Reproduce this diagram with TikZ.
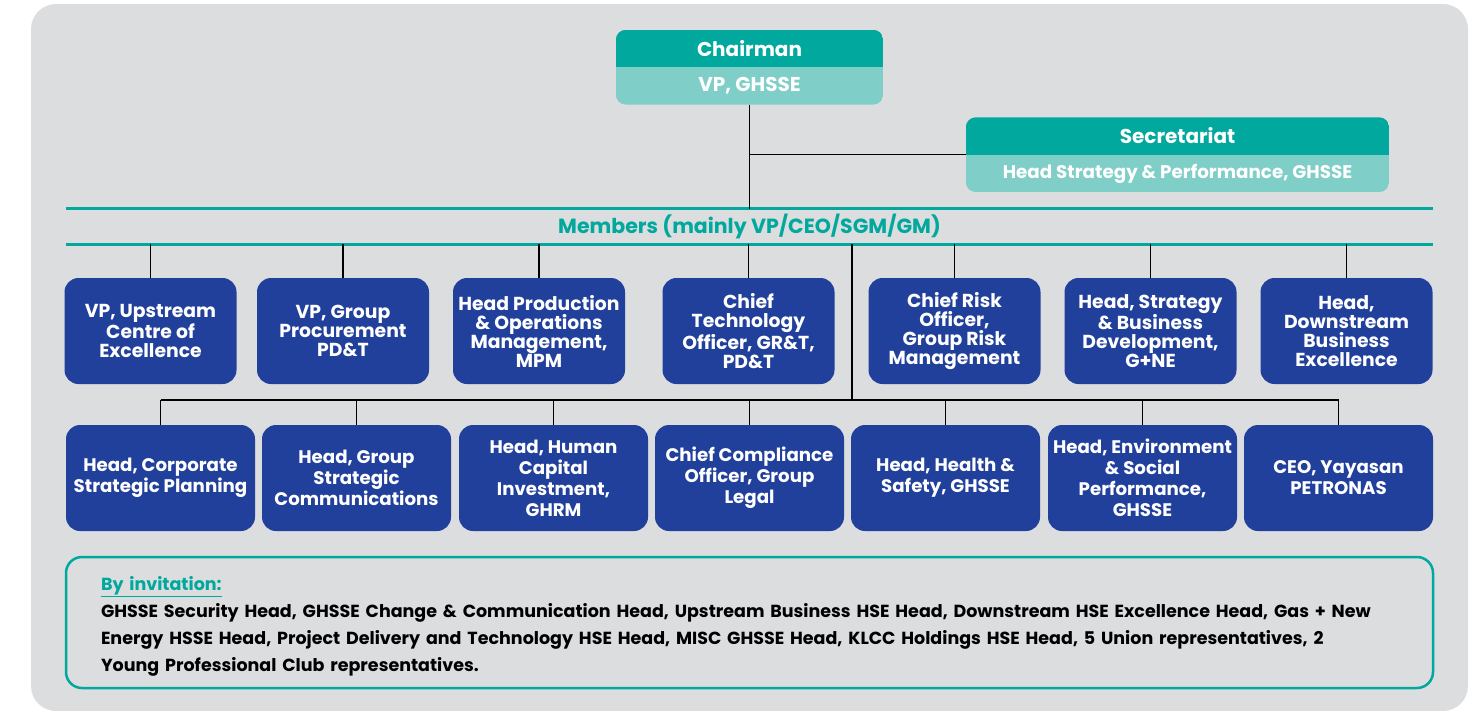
\documentclass[tikz,border=0pt]{standalone}
\usepackage{fontspec}
\setmainfont{Poppins}
\usetikzlibrary{positioning,backgrounds}

\definecolor{petteal}{RGB}{0,168,157}
\definecolor{petlteal}{RGB}{127,206,200}
\definecolor{petblue}{RGB}{33,64,155}
\definecolor{petgrey}{RGB}{220,221,223}

\tikzset{
  memberbox/.style={rectangle, rounded corners=14pt, fill=petblue, text=white, align=center,
    minimum height=106pt, inner sep=1pt, font=\bfseries\fontsize{18.8}{19}\selectfont},
  toprow/.style={memberbox, minimum width=172pt},
  botrow/.style={memberbox, minimum width=189pt, font=\bfseries\fontsize{18.2}{21}\selectfont},
  headtext/.style={text=white, minimum height=37pt, inner sep=0pt, font=\bfseries\fontsize{20}{22}\selectfont},
  link/.style={black, line width=1.4pt},
  tealline/.style={petteal, line width=3pt},
}

\begin{document}
\begin{tikzpicture}[x=1pt,y=-1pt]
    \useasboundingbox (0,0) rectangle (1478,710);

    % chairman and secretariat
    \node[headtext, minimum width=267pt] (chair) at (749.5,48.5) {Chairman};
    \node[headtext, minimum width=267pt, below=0pt of chair] (chairvp) {VP, GHSSE};
    \node[headtext, minimum width=423pt] (secr) at (1177.5,136) {Secretariat};
    \node[headtext, minimum width=423pt, below=0pt of secr, font=\bfseries\fontsize{18.3}{20}\selectfont] (secrhead) {Head Strategy \& Performance, GHSSE};

    \node[text=petteal, minimum width=1367pt, minimum height=35pt, inner sep=0pt,
      font=\bfseries\fontsize{20.5}{22}\selectfont] (members) at (749.5,226.5) {Members (mainly VP/CEO/SGM/GM)};
    \draw[tealline] (members.north west) -- (members.north east);
    \draw[tealline] (members.south west) -- (members.south east);

    \draw[link] (chairvp.south) -- (chairvp.south |- members.north);
    \draw[link] (secrhead.north west) -- (secrhead.north west -| chairvp.south);

    % first row of members
    \foreach \x/\txt [count=\i] in {150.5/{VP, Upstream\\Centre of\\Excellence},
        343/{VP, Group\\Procurement\\PD\&T},
        539/{Head Production\\\& Operations\\Management,\\MPM},
        748.5/{Chief\\Technology\\Officer, GR\&T,\\PD\&T},
        954.5/{Chief Risk\\Officer,\\Group Risk\\Management},
        1150.5/{Head, Strategy\\\& Business\\Development,\\G+NE},
        1346.5/{Head,\\Downstream\\Business\\Excellence}}{
      \node[toprow] (m\i) at (\x,331) {\txt};
      \draw[link] (members.south -| m\i) -- (m\i.north);
    }

    % second row of members
    \foreach \x/\txt [count=\i] in {160.5/{Head, Corporate\\Strategic Planning},
        356.5/{Head, Group\\Strategic\\Communications},
        553.5/{Head, Human\\Capital\\Investment,\\GHRM},
        749.5/{Chief Compliance\\Officer, Group\\Legal},
        945.5/{Head, Health \&\\Safety, GHSSE},
        1142.5/{Head, Environment\\\& Social\\Performance,\\GHSSE},
        1338.5/{CEO, Yayasan\\PETRONAS}}{
      \node[botrow] (s\i) at (\x,478) {\txt};
    }
    \coordinate (hub) at (852,400);
    \draw[link] (members.south -| hub) -- (hub);
    \draw[link] (hub -| s1) -- (hub -| s7);
    \foreach \i in {1,...,7}
      \draw[link] (hub -| s\i) -- (s\i.north);

    % by invitation
    \node[draw=petteal, line width=2.5pt, rounded corners=16pt, minimum width=1367pt, minimum height=131pt,
      text width=1297pt, align=left, inner sep=0pt, font=\bfseries\fontsize{17.5}{27}\selectfont]
      (invite) at (749.5,622.5) {\rule{0pt}{21pt}{\color{petteal}\underline{By invitation:}}\\
      GHSSE Security Head, GHSSE Change \& Communication Head, Upstream Business HSE Head, Downstream HSE Excellence Head, Gas + New\\
      Energy HSSE Head, Project Delivery and Technology HSE Head, MISC GHSSE Head, KLCC Holdings HSE Head, 5 Union representatives, 2\\
      Young Professional Club representatives.};

    \begin{scope}[on background layer]
      \fill[petgrey, rounded corners=25pt] (31,4) rectangle (1468,711);
      \begin{scope}
        \clip[rounded corners=10pt] (chair.north west) rectangle (chairvp.south east);
        \fill[petteal] (chair.north west) rectangle (chair.south east);
        \fill[petlteal] (chairvp.north west) rectangle (chairvp.south east);
      \end{scope}
      \begin{scope}
        \clip[rounded corners=10pt] (secr.north west) rectangle (secrhead.south east);
        \fill[petteal] (secr.north west) rectangle (secr.south east);
        \fill[petlteal] (secrhead.north west) rectangle (secrhead.south east);
      \end{scope}
    \end{scope}
\end{tikzpicture}
\end{document}
